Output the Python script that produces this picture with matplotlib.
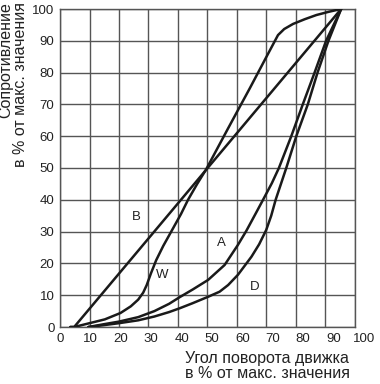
import matplotlib
matplotlib.use("Agg")
import matplotlib.pyplot as plt
import matplotlib.transforms as mtransforms

plt.rcParams['font.family'] = ['Liberation Sans', 'DejaVu Sans']

# Curve data (x: % of slider rotation, y: % of max resistance)
b_x = [3.5, 4.8, 95.3]
b_y = [0, 0, 100]

w_x = [3.5, 4.8, 10, 15.2, 20.5, 24, 26.5, 28.2, 29.4, 30.8, 32.6, 35, 38.3, 41, 43.4,
       46.5, 49.5, 57, 64.3, 70, 73.9, 76, 79, 83, 86.9, 91, 95.3]
w_y = [0, 0, 1.2, 2.4, 4.4, 6.5, 8.6, 10.8, 13.2, 16.8, 21, 25.5, 31, 35.5, 40,
       45, 49.5, 62.5, 75, 85, 91.8, 93.7, 95.3, 96.8, 98.1, 99.1, 100]

a_x = [9.6, 15, 20, 26.5, 32, 37, 40.6, 45, 50.2, 55.8, 60.3, 63.2, 66.4, 69, 71.8,
       74.2, 78.4, 82.3, 86.3, 90.2, 95.3]
a_y = [0, 0.9, 1.7, 3.1, 5, 7.3, 9.4, 11.8, 14.8, 19.5, 25.8, 30.3, 35.8, 40.3, 45.2,
       50, 60, 70, 80, 90, 100]

d_x = [9.6, 15, 20, 26.5, 32, 37, 40.6, 45, 50.2, 54.1, 57, 60.3, 64.9, 67.5, 69.9,
       71.6, 73.1, 76.7, 80.1, 84, 87.3, 91, 95.3]
d_y = [0, 0.6, 1.2, 2.1, 3.3, 4.7, 5.9, 7.5, 9.5, 11.1, 13.2, 16.4, 22.1, 26, 30.5,
       35, 40, 50, 60, 70, 80, 90, 100]

curve_labels = ["B", "W", "A", "D"]
label_x = [26, 34.5, 54.8, 66]
label_y = [34.6, 16.4, 26.4, 12.6]

ticks = [0, 10, 20, 30, 40, 50, 60, 70, 80, 90, 100]
tick_labels = [str(t) for t in ticks]

fig = plt.figure(figsize=(3.8, 3.84), dpi=100)
ax = fig.add_axes([60/380, 1-327/384, 295/380, 318/384])

grid_color = '#555555'
ax.set_xlim(0, 100)
ax.set_ylim(0, 100)
for t in ticks:
    ax.axvline(t, color=grid_color, lw=1.0, zorder=1)
    ax.axhline(t, color=grid_color, lw=1.0, zorder=1)
for s in ax.spines.values():
    s.set_color(grid_color)
    s.set_linewidth(1.0)

lw = 1.8
for xs, ys in [(b_x, b_y), (w_x, w_y), (a_x, a_y), (d_x, d_y)]:
    ax.plot(xs, ys, color='#1a1a1a', lw=lw, solid_joinstyle='round',
            solid_capstyle='round', zorder=3)

for lab, lx, ly in zip(curve_labels, label_x, label_y):
    ax.text(lx, ly, lab, fontsize=9.5, ha='center', va='center', color='#222222')

ax.set_xticks(ticks)
ax.set_yticks(ticks)
ax.set_xticklabels(tick_labels, fontsize=9.5, color='#222222')
ax.set_yticklabels(tick_labels, fontsize=9.5, color='#222222')
ax.tick_params(length=0, pad=4)

# slight rightward drift of x tick labels as in the reference
for i, lbl in enumerate(ax.get_xticklabels()):
    off = mtransforms.ScaledTranslation(0.09 * ticks[i] / 100.0, 0, fig.dpi_scale_trans)
    lbl.set_transform(lbl.get_transform() + off)

fs_lab = 11.5
fig.text(185/380, 1-358/384, "Угол поворота движка", fontsize=fs_lab, ha='left',
         va='center', color='#222222')
fig.text(185/380, 1-373/384, "в % от макс. значения", fontsize=fs_lab, ha='left',
         va='center', color='#222222')
fig.text(6/380, 1-2/384, "Сопротивление", fontsize=fs_lab, rotation=90, ha='center',
         va='top', color='#222222')
fig.text(21/380, 1-2/384, "в % от макс. значения", fontsize=fs_lab, rotation=90,
         ha='center', va='top', color='#222222')

fig.savefig("out.png", dpi=100)
